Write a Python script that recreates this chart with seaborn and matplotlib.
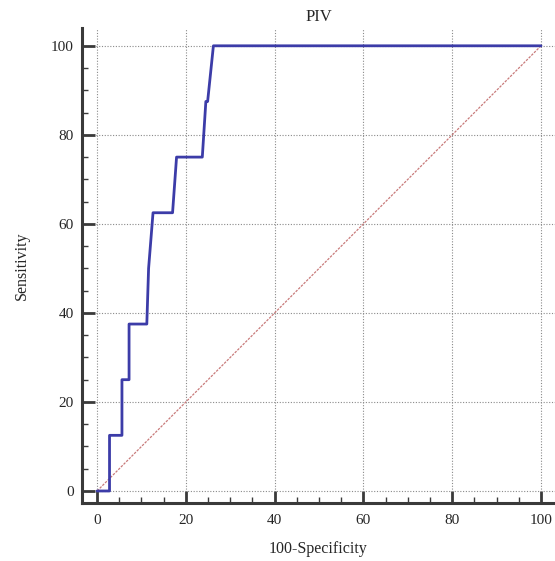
import matplotlib
matplotlib.use("Agg")
import matplotlib.pyplot as plt
import seaborn as sns
import numpy as np
from matplotlib.ticker import MultipleLocator

# ROC curve data (100-Specificity, Sensitivity)
fpr = [0, 2.8, 2.8, 5.6, 5.6, 7.2, 7.2, 11.2, 11.6, 12.6, 17.0, 17.9, 23.7, 24.5, 24.9, 26.2, 100]
tpr = [0, 0, 12.5, 12.5, 25, 25, 37.5, 37.5, 50, 62.5, 62.5, 75, 75, 87.5, 87.5, 100, 100]
diag_x = [0, 100]
diag_y = [0, 100]
ticks = [0, 20, 40, 60, 80, 100]
title = "PIV"
xlabel = "100-Specificity"
ylabel = "Sensitivity"

sns.set_style("white")
plt.rcParams['font.family'] = ['Liberation Serif', 'DejaVu Serif']

fig = plt.figure(figsize=(5.55, 5.61), dpi=100)
W, H = 555, 561
ax = fig.add_axes([82 / W, (H - 503) / H, (555 - 82) / W, (503 - 28) / H])

sns.lineplot(x=diag_x, y=diag_y, ax=ax, color="#c87a7a", linewidth=0.9,
             linestyle=(0, (2, 1)), sort=False, estimator=None, zorder=2)
sns.lineplot(x=fpr, y=tpr, ax=ax, color="#3c3ca8", linewidth=2.0,
             sort=False, estimator=None, zorder=3)

ax.set_xlim(-3.4, 103.15)
ax.set_ylim(-2.7, 104.0)
ax.set_xticks(ticks)
ax.set_yticks(ticks)
ax.xaxis.set_minor_locator(MultipleLocator(5))
ax.yaxis.set_minor_locator(MultipleLocator(5))
ax.grid(True, which="major", color="#8a8a8a", linestyle=(0, (1, 1.5)), linewidth=0.8)
ax.set_axisbelow(True)

for s in ["top", "right"]:
    ax.spines[s].set_visible(False)
for s in ["left", "bottom"]:
    ax.spines[s].set_color("#3a3a3a")
    ax.spines[s].set_linewidth(2.2)

ax.tick_params(axis="both", which="both", bottom=True, left=True, top=False, right=False)
ax.tick_params(axis="both", which="major", direction="in", length=9, width=2,
               color="#3a3a3a", labelsize=11, pad=8)
ax.tick_params(axis="both", which="minor", direction="in", length=4, width=1,
               color="#3a3a3a")
ax.tick_params(axis="y", which="major", pad=6)

ax.set_title(title, fontsize=12, pad=5)
ax.set_xlabel(xlabel, fontsize=11.5, labelpad=10)
ax.set_ylabel(ylabel, fontsize=11.5, labelpad=15)

fig.savefig("out.png", dpi=100)
